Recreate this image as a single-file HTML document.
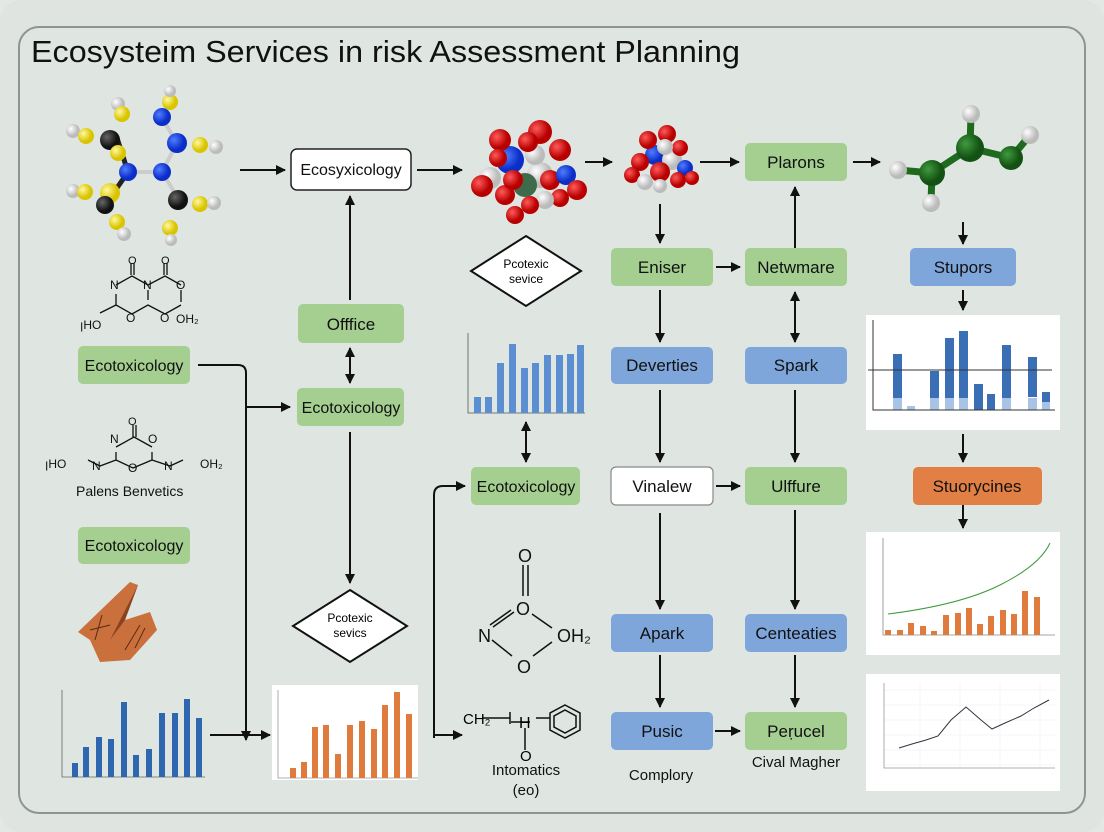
<!DOCTYPE html>
<html><head><meta charset="utf-8"><style>
html,body{margin:0;padding:0;background:#e3e8e5;}
svg{display:block;font-family:"Liberation Sans",sans-serif;}
</style></head><body>
<svg width="1104" height="832" viewBox="0 0 1104 832" xmlns="http://www.w3.org/2000/svg">
<defs>
<marker id="a" viewBox="0 0 10 10" refX="9" refY="5" markerWidth="10" markerHeight="10" markerUnits="userSpaceOnUse" orient="auto-start-reverse"><path d="M0,0L10,5L0,10z" fill="#111"/></marker>
<radialGradient id="gy" cx="35%" cy="35%"><stop offset="0" stop-color="#fff9a0"/><stop offset="1" stop-color="#d9c400"/></radialGradient>
<radialGradient id="gb" cx="35%" cy="35%"><stop offset="0" stop-color="#4f7dff"/><stop offset="1" stop-color="#0b2dc8"/></radialGradient>
<radialGradient id="gw" cx="35%" cy="35%"><stop offset="0" stop-color="#fff"/><stop offset="1" stop-color="#bbb"/></radialGradient>
<radialGradient id="gk" cx="35%" cy="35%"><stop offset="0" stop-color="#666"/><stop offset="1" stop-color="#111"/></radialGradient>
<radialGradient id="gr" cx="35%" cy="35%"><stop offset="0" stop-color="#ff5a5a"/><stop offset="1" stop-color="#b80000"/></radialGradient>
<radialGradient id="gg" cx="35%" cy="35%"><stop offset="0" stop-color="#3f9a3f"/><stop offset="1" stop-color="#145214"/></radialGradient>
</defs>
<rect x="0" y="0" width="1104" height="832" rx="22" fill="#dfe4e1"/>
<rect x="19" y="27" width="1066" height="786" rx="20" fill="#dfe6e2" stroke="#8e9591" stroke-width="2"/>
<text x="31" y="62" font-size="31" textLength="709" lengthAdjust="spacingAndGlyphs" fill="#111">Ecosysteim Services in risk Assessment Planning</text>

<!-- left molecule -->
<g stroke="#ccc" stroke-width="4">
<line x1="128" y1="172" x2="162" y2="172"/><line x1="162" y1="172" x2="178" y2="198"/><line x1="162" y1="172" x2="177" y2="143"/><line x1="177" y1="143" x2="162" y2="118"/>
</g>
<g stroke="#222" stroke-width="5">
<line x1="117" y1="138" x2="128" y2="172"/><line x1="110" y1="198" x2="128" y2="172"/>
</g>
<circle cx="73" cy="131" r="7" fill="url(#gw)"/><circle cx="86" cy="136" r="8" fill="url(#gy)"/>
<circle cx="118" cy="104" r="7" fill="url(#gw)"/><circle cx="122" cy="114" r="8" fill="url(#gy)"/>
<circle cx="110" cy="140" r="10" fill="url(#gk)"/><circle cx="118" cy="153" r="8" fill="url(#gy)"/>
<circle cx="128" cy="172" r="9" fill="url(#gb)"/><circle cx="162" cy="172" r="9" fill="url(#gb)"/>
<circle cx="170" cy="102" r="8" fill="url(#gy)"/><circle cx="170" cy="91" r="6" fill="url(#gw)"/>
<circle cx="162" cy="117" r="9" fill="url(#gb)"/><circle cx="177" cy="143" r="10" fill="url(#gb)"/>
<circle cx="200" cy="145" r="8" fill="url(#gy)"/><circle cx="216" cy="147" r="7" fill="url(#gw)"/>
<circle cx="73" cy="191" r="7" fill="url(#gw)"/><circle cx="85" cy="192" r="8" fill="url(#gy)"/>
<circle cx="110" cy="193" r="10" fill="url(#gy)"/><circle cx="105" cy="205" r="9" fill="url(#gk)"/>
<circle cx="117" cy="222" r="8" fill="url(#gy)"/><circle cx="124" cy="234" r="7" fill="url(#gw)"/>
<circle cx="178" cy="200" r="10" fill="url(#gk)"/><circle cx="200" cy="204" r="8" fill="url(#gy)"/><circle cx="214" cy="203" r="7" fill="url(#gw)"/>
<circle cx="170" cy="228" r="8" fill="url(#gy)"/><circle cx="171" cy="240" r="6" fill="url(#gw)"/>

<!-- structural formulas -->
<g fill="none" stroke="#111" stroke-width="1.3">
<path d="M131 275V263M134 275V263M164 275V263M167 275V263"/>
<path d="M116 285L132 276 L148 285 L165 276 L181 285 M116 294 V305 L132 314 L148 305 L165 314 L181 305 M148 290 V300 M181 290 V302 M116 305 L100 313"/>
<path d="M133 437V425M136 437V425M116 447 L134 437 L152 447 M116 460 L133 468 L152 460 M116 452 V460 M152 452 V460 M116 460 L100 466 L88 460 M152 460 L170 466 L183 460"/>
</g>
<g font-size="12" fill="#111">
<text x="110" y="289">N</text><text x="143" y="289">N</text><text x="128" y="264" font-size="11">O</text><text x="161" y="264" font-size="11">O</text>
<text x="176" y="289">O</text><text x="80" y="329">ꞁHO</text><text x="126" y="322">O</text><text x="160" y="322">O</text><text x="176" y="323">OH₂</text>
<text x="128" y="425" font-size="11">O</text><text x="110" y="443">N</text><text x="148" y="443">O</text>
<text x="45" y="468">ꞁHO</text><text x="92" y="470">N</text><text x="128" y="472">O</text><text x="164" y="470">N</text><text x="200" y="468">OH₂</text>
</g>
<text x="76" y="496" font-size="14" fill="#111">Palens Benvetics</text>

<!-- clay piece -->
<polygon points="78,632 130,582 138,585 125,620 150,612 157,630 130,660 100,662 90,640" fill="#c9703d"/>
<polygon points="125,620 138,585 110,640" fill="#8a4220"/>
<path d="M90,630 L110,625 M95,640 L102,615 M125,650 L140,625 M135,648 L145,628" stroke="#5c2a10" stroke-width="1"/>

<!-- nodes -->
<g font-size="17" text-anchor="middle" fill="#111">
<rect x="291" y="149" width="120" height="41" rx="6" fill="#fff" stroke="#222" stroke-width="1.5"/><text x="351" y="175" font-size="16">Ecosyxicology</text>
<rect x="298" y="304" width="106" height="39" rx="5" fill="#a5cf91"/><text x="351" y="330">Offfice</text>
<rect x="297" y="388" width="107" height="38" rx="5" fill="#a5cf91"/><text x="351" y="413" font-size="16">Ecotoxicology</text>
<rect x="78" y="346" width="112" height="38" rx="5" fill="#a5cf91"/><text x="134" y="371" font-size="16">Ecotoxicology</text>
<rect x="78" y="527" width="112" height="37" rx="5" fill="#a5cf91"/><text x="134" y="551" font-size="16">Ecotoxicology</text>
<rect x="745" y="143" width="102" height="38" rx="5" fill="#a5cf91"/><text x="796" y="168">Plarons</text>
<rect x="611" y="248" width="102" height="38" rx="5" fill="#a5cf91"/><text x="662" y="273">Eniser</text>
<rect x="745" y="248" width="102" height="38" rx="5" fill="#a5cf91"/><text x="796" y="273">Netwmare</text>
<rect x="910" y="248" width="106" height="38" rx="5" fill="#7fa6db"/><text x="963" y="273">Stupors</text>
<rect x="611" y="347" width="102" height="37" rx="5" fill="#7fa6db"/><text x="662" y="371">Deverties</text>
<rect x="745" y="347" width="102" height="37" rx="5" fill="#7fa6db"/><text x="796" y="371">Spark</text>
<rect x="471" y="467" width="109" height="38" rx="5" fill="#a5cf91"/><text x="526" y="492" font-size="16">Ecotoxicology</text>
<rect x="611" y="467" width="102" height="38" rx="5" fill="#fff" stroke="#888" stroke-width="1.2"/><text x="662" y="492">Vinalew</text>
<rect x="745" y="467" width="102" height="38" rx="5" fill="#a5cf91"/><text x="796" y="492">Ulffure</text>
<rect x="913" y="467" width="129" height="38" rx="5" fill="#e27f45"/><text x="977" y="492">Stuorycines</text>
<rect x="611" y="614" width="102" height="38" rx="5" fill="#7fa6db"/><text x="662" y="639">Apark</text>
<rect x="745" y="614" width="102" height="38" rx="5" fill="#7fa6db"/><text x="796" y="639">Centeaties</text>
<rect x="611" y="712" width="102" height="38" rx="5" fill="#7fa6db"/><text x="662" y="737">Pusic</text>
<rect x="745" y="712" width="102" height="38" rx="5" fill="#a5cf91"/><text x="796" y="737">Peṛucel</text>
</g>
<g font-size="15" text-anchor="middle" fill="#111">
<text x="661" y="780">Complory</text><text x="796" y="767">Cival Magher</text>
<text x="526" y="775">Intomatics</text><text x="526" y="795">(eo)</text>
</g>
<!-- diamonds -->
<polygon points="526,236 581,271 526,306 471,271" fill="#fff" stroke="#111" stroke-width="2"/>
<text x="526" y="268" font-size="12" text-anchor="middle">Pcotexic</text><text x="526" y="283" font-size="12" text-anchor="middle">sevice</text>
<polygon points="350,590 407,626 350,662 293,626" fill="#fff" stroke="#111" stroke-width="2"/>
<text x="350" y="622" font-size="12" text-anchor="middle">Pcotexic</text><text x="350" y="637" font-size="12" text-anchor="middle">sevics</text>

<!-- mid chemistry -->
<g font-size="18" fill="#111">
<text x="518" y="562">O</text><text x="516" y="615">O</text><text x="478" y="642">N</text><text x="557" y="642">OH₂</text><text x="517" y="673">O</text>
</g>
<g stroke="#111" stroke-width="1.5" fill="none">
<path d="M523,565V596M528,565V596M514,612L493,627M511,610L490,625M532,614L552,628M492,640L512,656M552,642L533,656"/>
<path d="M482,718H510M510,712V724M511,722H530M525,728V750M536,718H550"/>
<polygon points="565,705 580,713 580,730 565,738 550,730 550,713"/><polygon points="565,710 576,716 576,727 565,733 554,727 554,716"/>
</g>
<text x="463" y="724" font-size="15">CH₂</text><text x="519" y="728" font-size="16">H</text><text x="520" y="761" font-size="15">O</text>

<!-- red molecules -->
<g>
<circle cx="510" cy="160" r="14" fill="url(#gb)"/><circle cx="540" cy="175" r="13" fill="url(#gw)"/><circle cx="525" cy="185" r="12" fill="#3d6b4c"/>
<circle cx="500" cy="140" r="11" fill="url(#gr)"/><circle cx="540" cy="132" r="12" fill="url(#gr)"/><circle cx="560" cy="150" r="11" fill="url(#gr)"/>
<circle cx="490" cy="178" r="11" fill="url(#gw)"/><circle cx="482" cy="186" r="11" fill="url(#gr)"/><circle cx="505" cy="195" r="10" fill="url(#gr)"/>
<circle cx="535" cy="155" r="10" fill="url(#gw)"/><circle cx="550" cy="180" r="10" fill="url(#gr)"/><circle cx="566" cy="175" r="10" fill="url(#gb)"/>
<circle cx="577" cy="190" r="10" fill="url(#gr)"/><circle cx="560" cy="198" r="9" fill="url(#gr)"/><circle cx="515" cy="215" r="9" fill="url(#gr)"/>
<circle cx="528" cy="142" r="10" fill="url(#gr)"/><circle cx="513" cy="180" r="10" fill="url(#gr)"/><circle cx="498" cy="158" r="9" fill="url(#gr)"/>
<circle cx="545" cy="200" r="9" fill="url(#gw)"/><circle cx="530" cy="205" r="9" fill="url(#gr)"/>
</g>
<g>
<circle cx="655" cy="155" r="10" fill="url(#gb)"/><circle cx="672" cy="160" r="10" fill="url(#gw)"/><circle cx="660" cy="172" r="10" fill="url(#gr)"/>
<circle cx="648" cy="140" r="9" fill="url(#gr)"/><circle cx="667" cy="134" r="9" fill="url(#gr)"/><circle cx="680" cy="148" r="8" fill="url(#gr)"/>
<circle cx="640" cy="162" r="9" fill="url(#gr)"/><circle cx="632" cy="175" r="8" fill="url(#gr)"/><circle cx="645" cy="182" r="8" fill="url(#gw)"/>
<circle cx="685" cy="168" r="8" fill="url(#gb)"/><circle cx="678" cy="180" r="8" fill="url(#gr)"/><circle cx="692" cy="178" r="7" fill="url(#gr)"/>
<circle cx="660" cy="186" r="7" fill="url(#gw)"/><circle cx="665" cy="147" r="8" fill="url(#gw)"/>
</g>
<!-- green molecule -->
<g stroke="#1e6b1e" stroke-width="7"><line x1="898" y1="170" x2="932" y2="173"/><line x1="932" y1="173" x2="970" y2="148"/><line x1="970" y1="148" x2="1011" y2="158"/><line x1="970" y1="148" x2="971" y2="114"/><line x1="1011" y1="158" x2="1030" y2="135"/><line x1="932" y1="173" x2="931" y2="203"/></g>
<circle cx="932" cy="173" r="13" fill="url(#gg)"/><circle cx="970" cy="148" r="14" fill="url(#gg)"/><circle cx="1011" cy="158" r="12" fill="url(#gg)"/>
<circle cx="898" cy="170" r="9" fill="url(#gw)"/><circle cx="931" cy="203" r="9" fill="url(#gw)"/><circle cx="971" cy="114" r="9" fill="url(#gw)"/><circle cx="1030" cy="135" r="9" fill="url(#gw)"/>

<!-- charts -->
<g>
<path d="M468,333V413H585" stroke="#555" stroke-width="0.8" fill="none"/>
<g fill="#5b8fd1"><rect x="474" y="397" width="7" height="16"/><rect x="485" y="397" width="7" height="16"/><rect x="497" y="363" width="7" height="50"/><rect x="509" y="344" width="7" height="69"/><rect x="521" y="368" width="7" height="45"/><rect x="532" y="363" width="7" height="50"/><rect x="544" y="355" width="7" height="58"/><rect x="556" y="355" width="7" height="58"/><rect x="567" y="354" width="7" height="59"/><rect x="577" y="345" width="7" height="68"/></g>
</g>
<rect x="866" y="315" width="194" height="115" fill="#fff"/>
<g fill="#3a6fb5"><rect x="893" y="354" width="9" height="44"/><rect x="930" y="371" width="9" height="27"/><rect x="945" y="338" width="9" height="60"/><rect x="959" y="331" width="9" height="67"/><rect x="974" y="384" width="9" height="26"/><rect x="987" y="394" width="8" height="16"/><rect x="1002" y="345" width="9" height="53"/><rect x="1028" y="357" width="9" height="40"/><rect x="1042" y="392" width="8" height="10"/></g>
<g fill="#a9c3e6"><rect x="893" y="398" width="9" height="12"/><rect x="930" y="398" width="9" height="12"/><rect x="945" y="398" width="9" height="12"/><rect x="959" y="398" width="9" height="12"/><rect x="1002" y="398" width="9" height="12"/><rect x="1028" y="398" width="9" height="12"/><rect x="1042" y="402" width="8" height="8"/><rect x="907" y="406" width="8" height="4"/></g>
<path d="M873,320V410H1055M868,370H1052" stroke="#333" stroke-width="1" fill="none"/>
<rect x="866" y="532" width="194" height="123" fill="#fff"/>
<path d="M883,538V635H1055" stroke="#888" stroke-width="0.8" fill="none"/>
<g fill="#e07b3e"><rect x="885" y="630" width="6" height="5"/><rect x="897" y="630" width="6" height="5"/><rect x="908" y="623" width="6" height="12"/><rect x="920" y="626" width="6" height="9"/><rect x="931" y="631" width="6" height="4"/><rect x="943" y="615" width="6" height="20"/><rect x="955" y="613" width="6" height="22"/><rect x="966" y="608" width="6" height="27"/><rect x="977" y="624" width="6" height="11"/><rect x="988" y="616" width="6" height="19"/><rect x="1000" y="610" width="6" height="25"/><rect x="1011" y="614" width="6" height="21"/><rect x="1022" y="591" width="6" height="44"/><rect x="1034" y="597" width="6" height="38"/></g>
<path d="M888,614 Q960,605 1000,585 T1050,543" stroke="#3a9a3a" stroke-width="1" fill="none"/>
<rect x="866" y="674" width="194" height="117" fill="#fff"/>
<g stroke="#eee" stroke-width="0.6"><path d="M884,690H1055M884,705H1055M884,720H1055M884,735H1055M884,750H1055M884,765H1055M920,683V768M960,683V768M1000,683V768M1040,683V768"/></g>
<path d="M884,683V768H1055" stroke="#999" stroke-width="0.8" fill="none"/>
<polyline points="899,748 912,744 926,740 938,736 951,720 966,707 981,720 992,729 1005,723 1021,716 1034,708 1049,700" stroke="#334" stroke-width="1" fill="none"/>
<path d="M62,690V777H205" stroke="#666" stroke-width="0.8" fill="none"/>
<g fill="#2e66b0"><rect x="72" y="763" width="6" height="14"/><rect x="83" y="747" width="6" height="30"/><rect x="96" y="737" width="6" height="40"/><rect x="108" y="739" width="6" height="38"/><rect x="121" y="702" width="6" height="75"/><rect x="133" y="755" width="6" height="22"/><rect x="146" y="749" width="6" height="28"/><rect x="159" y="713" width="6" height="64"/><rect x="172" y="713" width="6" height="64"/><rect x="184" y="699" width="6" height="78"/><rect x="196" y="718" width="6" height="59"/></g>
<rect x="272" y="685" width="146" height="95" fill="#fff"/>
<path d="M278,690V778H418" stroke="#999" stroke-width="0.8" fill="none"/>
<g fill="#e07b3e"><rect x="290" y="768" width="6" height="10"/><rect x="301" y="762" width="6" height="16"/><rect x="312" y="727" width="6" height="51"/><rect x="323" y="725" width="6" height="53"/><rect x="335" y="754" width="6" height="24"/><rect x="347" y="725" width="6" height="53"/><rect x="359" y="721" width="6" height="57"/><rect x="371" y="729" width="6" height="49"/><rect x="382" y="705" width="6" height="73"/><rect x="394" y="692" width="6" height="86"/><rect x="406" y="714" width="6" height="64"/></g>

<!-- arrows -->
<g stroke="#111" stroke-width="2" fill="none" marker-end="url(#a)">
<path d="M240,170H285"/><path d="M417,170H462"/><path d="M585,162H612"/><path d="M700,162H739"/><path d="M853,162H880"/>
<path d="M350,300V196"/><path d="M350,432V583"/>
<path d="M198,365H238Q246,365 246,373V740"/><path d="M246,407H290"/><path d="M210,735H270"/>
<path d="M434,738V495Q434,486 443,486H465"/><path d="M434,735H462"/>
<path d="M660,204V243"/><path d="M716,267H740"/><path d="M795,248V187"/><path d="M660,290V342"/>
<path d="M660,390V462"/><path d="M716,486H740"/><path d="M795,390V462"/>
<path d="M963,222V244"/><path d="M963,290V310"/><path d="M963,434V462"/><path d="M963,505V528"/>
<path d="M660,513V609"/><path d="M795,510V609"/><path d="M660,655V707"/><path d="M795,655V707"/><path d="M715,731H740"/>
</g>
<g stroke="#111" stroke-width="2" fill="none" marker-start="url(#a)" marker-end="url(#a)">
<path d="M350,348V383"/><path d="M526,422V462"/><path d="M795,292V342"/>
</g>
</svg>
</body></html>
